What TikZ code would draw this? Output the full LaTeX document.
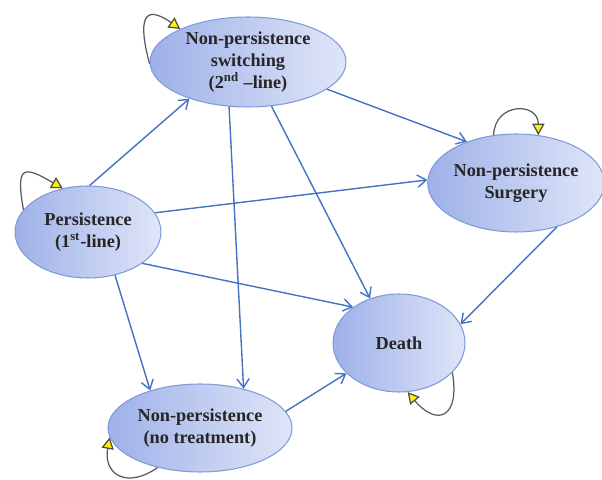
\documentclass[tikz,border=0pt]{standalone}
\usepackage{fontspec}
\setmainfont{Liberation Serif}
\usetikzlibrary{arrows.meta, shapes.geometric}
\definecolor{linkblue}{RGB}{68,114,196}
\definecolor{statedark}{RGB}{158,176,232}
\definecolor{statelight}{RGB}{224,230,248}
\definecolor{stateedge}{RGB}{125,155,215}

\begin{document}
\begin{tikzpicture}[x=0.02cm, y=0.02cm,
	state/.style={ellipse, draw=stateedge, line width=0.6pt, inner sep=0pt,
		left color=statedark, right color=statelight, align=center,
		font=\bfseries\fontsize{10.4}{12.5}\selectfont, text=black!85},
	link/.style={linkblue, line width=0.8pt, -{Straight Barb[length=5pt,width=7pt]}},
	selfloop/.style={black!65, line width=0.7pt,
		-{Triangle[length=6.5pt,width=7pt,color=black!70,fill=yellow]}}]
	\useasboundingbox (0,0) rectangle (602,480);
	% states
	\node[state, minimum width=3.92cm, minimum height=1.8cm] (sw) at (248,418)
		{Non-persistence\\switching\\(2\textsuperscript{nd} –line)};
	\node[state, minimum width=2.92cm, minimum height=1.84cm] (pers) at (88,248)
		{Persistence\\(1\textsuperscript{st}-line)};
	\node[state, minimum width=3.52cm, minimum height=1.96cm] (surg) at (516,297)
		{Non-persistence\\Surgery};
	\node[state, minimum width=2.64cm, minimum height=1.96cm] (death) at (399,137)
		{Death};
	\node[state, minimum width=3.68cm, minimum height=1.76cm] (notr) at (200,52)
		{Non-persistence\\(no treatment)};
	% transitions
	\draw[link] (pers.88) -- (sw.212);
	\draw[link] (pers.16) -- (surg.178);
	\draw[link] (pers.-30) -- (death.142);
	\draw[link] (pers.302) -- (notr.143);
	\draw[link] (sw.341) -- (surg.140);
	\draw[link] (sw.298) -- (death.123);
	\draw[link] (sw.247) -- (notr.42);
	\draw[link] (surg.313) -- (death.17);
	\draw[link] (notr.11) -- (death.210);
	% staying in the same state
	\draw[selfloop] (sw.181) to[out=105, in=145, looseness=2.5] (sw.154);
	\draw[selfloop] (pers.161) to[out=100, in=150, looseness=2.6] (pers.120);
	\draw[selfloop] (surg.115) to[out=88, in=90, looseness=1.9] (surg.65);
	\draw[selfloop] (death.331) to[out=-80, in=-50, looseness=2.4] (death.280);
	\draw[selfloop] (notr.223) to[out=-145, in=-100, looseness=1.7] (notr.186);
\end{tikzpicture}
\end{document}
